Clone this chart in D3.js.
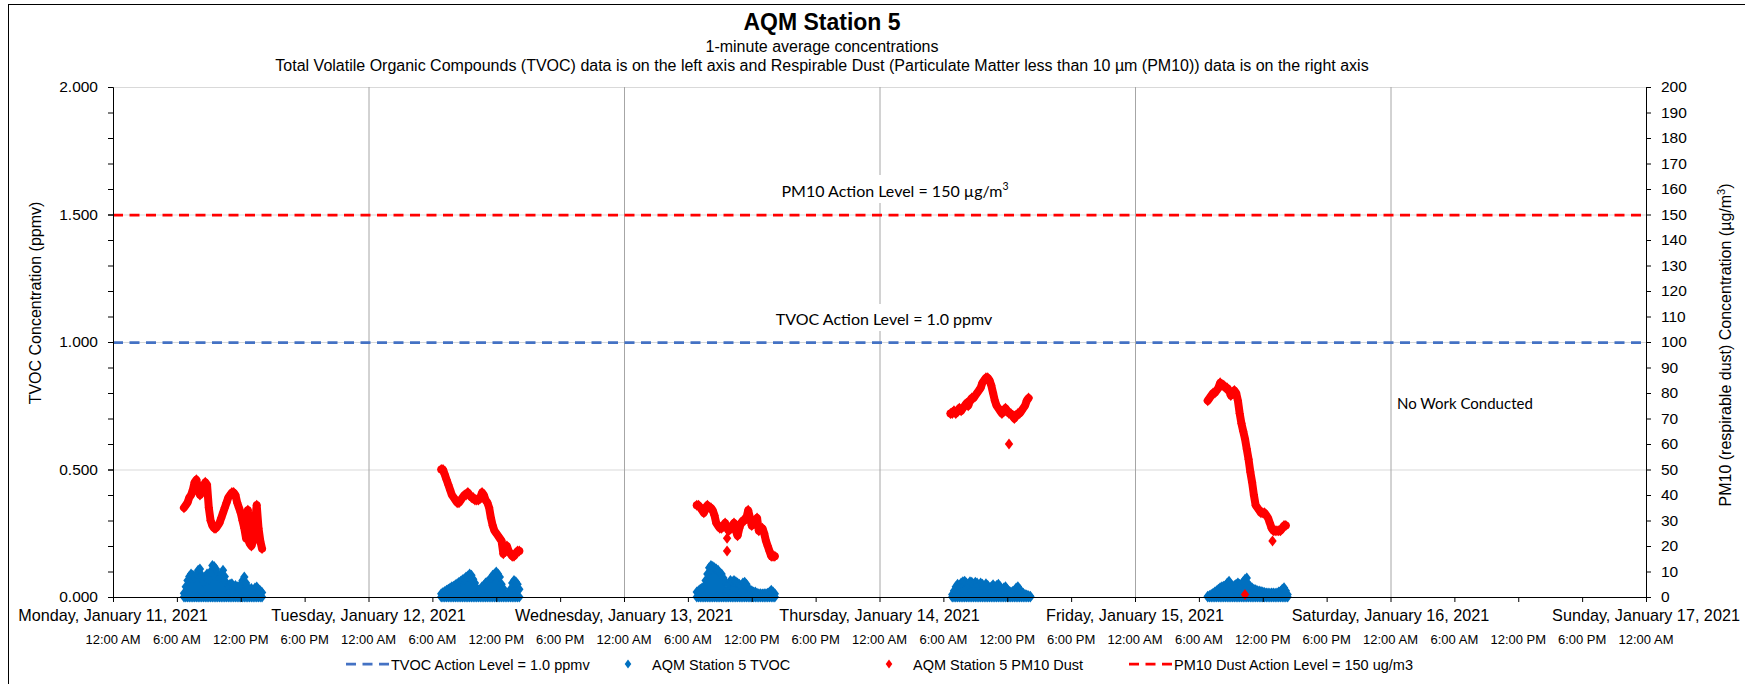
<!DOCTYPE html>
<html>
<head>
<meta charset="utf-8">
<script src="https://cdn.jsdelivr.net/npm/d3@7"></script>
<style>
  body { margin: 0; background: #fff; }
  svg { display: block; font-family: "Liberation Sans", Arial, sans-serif; }
</style>
</head>
<body>
<div id="chart"></div>
<script>

// Chart text
var titleText = "AQM Station 5";
var subtitleText = "1-minute average concentrations";
var noteText = "Total Volatile Organic Compounds (TVOC) data is on the left axis and Respirable Dust (Particulate Matter less than 10 \u00b5m (PM10)) data is on the right axis";
var leftTitle = "TVOC Concentration (ppmv)";
var rightTitle = "PM10 (respirable dust) Concentration (\u00b5g/m";

// Axis ticks and labels
var dayLabels = ["Monday, January 11, 2021", "Tuesday, January 12, 2021", "Wednesday, January 13, 2021",
  "Thursday, January 14, 2021", "Friday, January 15, 2021", "Saturday, January 16, 2021", "Sunday, January 17, 2021"];
var timeLabels = ["12:00 AM", "6:00 AM", "12:00 PM", "6:00 PM"];
var leftTicks = [0, 0.5, 1.0, 1.5, 2.0];
var rightTicks = [0, 10, 20, 30, 40, 50, 60, 70, 80, 90, 100, 110, 120, 130, 140, 150, 160, 170, 180, 190, 200];

// Action levels
var tvocAction = 1.0;
var pm10Action = 150;

// 10-minute readings (PM10 in ug/m3, TVOC in ppmv)
var pm10Jan11 = [35,36,37,39,40,42,45,46,42,40, 41,43,45,44,35,30,28,27,27,28, 29,31,33,35,37,39,40,41,41,40,
  37,35,33,30,27,23,34,21,20,22, 29,36,27,22,19];
var tvocJan11 = [0.015,0.04,0.065,0.08,0.09,0.085,0.075,0.09,0.105,0.11, 0.085,0.06,0.08,0.09,0.07,0.10,0.124,0.12,0.11,0.09,
  0.075,0.09,0.105,0.08,0.055,0.045,0.05,0.052,0.04,0.045, 0.04,0.035,0.05,0.065,0.078,0.055,0.035,0.03,0.033,0.025,
  0.035,0.039,0.03,0.025,0.018];

var pm10Jan12 = [50,50,48,46,44,42,40,39,38,37, 37,38,39,40,40,41,40,39,39,38, 38,38,39,41,40,38,37,35,31,28,
  26,25,24,23,22,17,19,20,18,17, 16,16,17,18,18];
var tvocJan12 = [0.013,0.018,0.022,0.026,0.03,0.035,0.04,0.042,0.048,0.052, 0.058,0.062,0.068,0.072,0.078,0.082,0.09,0.085,0.07,0.055,
  0.035,0.026,0.03,0.04,0.045,0.055,0.06,0.065,0.075,0.085, 0.09,0.098,0.09,0.078,0.05,0.033,0.015,0.005,0.015,0.03,
  0.055,0.065,0.06,0.05,0.03];

var pm10Jan13 = [36,36,35,34,33,35,36,35,35,34, 32,29,28,27,27,28,29,27,26,27, 28,29,26,24,27,29,30,30,31,34,
  31,28,29,30,31,26,27,27,25,22, 20,18,16,16,16];
var tvocJan13 = [0.02,0.025,0.03,0.035,0.04,0.065,0.09,0.115,0.124,0.12, 0.115,0.11,0.105,0.095,0.09,0.075,0.06,0.025,0.05,0.065,
  0.06,0.065,0.06,0.055,0.05,0.045,0.055,0.058,0.05,0.035, 0.026,0.025,0.02,0.02,0.015,0.013,0.013,0.012,0.013,0.013,
  0.015,0.02,0.026,0.02,0.013];

var pm10Jan14 = [72,72,73,72,73,74,73,74,75,76, 75,77,78,78,79,80,81,82,84,85, 86,86,85,83,80,77,75,74,73,72,
  73,74,73,72,72,71,70,71,72,72, 73,74,75,77,78];
var tvocJan14 = [0.01,0.025,0.04,0.05,0.045,0.055,0.06,0.062,0.055,0.05, 0.06,0.058,0.05,0.058,0.055,0.045,0.055,0.05,0.04,0.052,
  0.045,0.035,0.04,0.048,0.04,0.045,0.05,0.04,0.025,0.035, 0.04,0.03,0.022,0.02,0.022,0.025,0.035,0.04,0.03,0.02,
  0.015,0.01,0.008,0.005,0.003];

var pm10Jan15 = [77,78,79,80,80,81,82,84,83,83, 82,82,81,79,80,81,80,77,72,68, 65,62,58,54,49,45,40,36,35,34,
  33,33,33,32,31,29,27,26,26,26, 26,26,27,28,28];
var tvocJan15 = [0.003,0.006,0.01,0.015,0.02,0.025,0.03,0.036,0.04,0.042, 0.045,0.055,0.062,0.05,0.042,0.045,0.05,0.055,0.05,0.05,
  0.06,0.07,0.075,0.05,0.04,0.035,0.03,0.028,0.025,0.024, 0.022,0.02,0.018,0.016,0.016,0.015,0.016,0.016,0.015,0.016,
  0.02,0.023,0.03,0.036,0.025,0.01];

// Start time of each day's readings
var pm10Starts = ["2021-01-11T06:40", "2021-01-12T06:50", "2021-01-13T06:50", "2021-01-14T06:40", "2021-01-15T06:50"];
var tvocStarts = ["2021-01-11T06:40", "2021-01-12T06:50", "2021-01-13T06:50", "2021-01-14T06:50", "2021-01-15T06:50"];

// Stray PM10 readings away from the main trace
var pm10Spikes = [["2021-01-11T12:36", 30], ["2021-01-11T13:27", 32], ["2021-01-11T13:27", 28],
  ["2021-01-13T09:41", 23], ["2021-01-13T09:41", 18], ["2021-01-14T12:10", 60],
  ["2021-01-15T12:55", 22], ["2021-01-15T10:20", 1]];

var legendItems = ["TVOC Action Level = 1.0 ppmv", "AQM Station 5 TVOC", "AQM Station 5 PM10 Dust", "PM10 Dust Action Level = 150 ug/m3"];

// ------------------------------------------------------------------

var width = 1745, height = 684;
var plotLeft = 113, plotRight = 1646, plotTop = 87, plotBottom = 597;
var tvocBlue = "#0070C0", dustRed = "#FF0000", actionBlue = "#4472C4";

var parse = d3.timeParse("%Y-%m-%dT%H:%M");

var x = d3.scaleTime()
  .domain([parse("2021-01-11T00:00"), parse("2021-01-17T00:00")])
  .range([plotLeft, plotRight]);

var yL = d3.scaleLinear().domain([0, 2]).range([plotBottom, plotTop]);
var yR = d3.scaleLinear().domain([0, 200]).range([plotBottom, plotTop]);

// Expand a day's readings into timed points
function readings(start, vals) {
  var t0 = parse(start);
  return vals.map(function(v, i) { return { t: d3.timeMinute.offset(t0, i * 10), v: v }; });
}

var pm10Days = [pm10Jan11, pm10Jan12, pm10Jan13, pm10Jan14, pm10Jan15].map(function(d, i) { return readings(pm10Starts[i], d); });
var tvocDays = [tvocJan11, tvocJan12, tvocJan13, tvocJan14, tvocJan15].map(function(d, i) { return readings(tvocStarts[i], d); });
var spikes = pm10Spikes.map(function(d) { return { t: parse(d[0]), v: d[1] }; });

var diamond = "M0,-5.5L4.2,0L0,5.5L-4.2,0Z";

var svg = d3.select("#chart").append("svg")
  .attr("width", width)
  .attr("height", height);

// Chart border (runs off the right and bottom edges)
svg.append("rect")
  .attr("x", 8.5).attr("y", 4.5)
  .attr("width", width).attr("height", height)
  .attr("fill", "#fff").attr("stroke", "#000");

// Titles
svg.append("text").attr("x", 822).attr("y", 30)
  .attr("text-anchor", "middle").attr("font-size", 23).attr("font-weight", "bold")
  .text(titleText);
svg.append("text").attr("x", 822).attr("y", 52)
  .attr("text-anchor", "middle").attr("font-size", 16)
  .text(subtitleText);
svg.append("text").attr("x", 822).attr("y", 71)
  .attr("text-anchor", "middle").attr("font-size", 16)
  .text(noteText);

// Gridlines
var days = x.ticks(d3.timeDay.every(1));
var grid = svg.append("g");

grid.selectAll("line.h")
  .data(leftTicks.filter(function(d) { return d > 0; }))
  .enter().append("line")
  .attr("x1", plotLeft).attr("x2", plotRight)
  .attr("y1", function(d) { return yL(d) + 0.5; })
  .attr("y2", function(d) { return yL(d) + 0.5; })
  .attr("stroke", "#d9d9d9");

grid.selectAll("line.v")
  .data(days.slice(1, -1))
  .enter().append("line")
  .attr("x1", function(d) { return x(d) + 0.5; })
  .attr("x2", function(d) { return x(d) + 0.5; })
  .attr("y1", plotTop).attr("y2", plotBottom)
  .attr("stroke", "#a6a6a6");

// TVOC action level
svg.append("line")
  .attr("x1", plotLeft).attr("x2", plotRight)
  .attr("y1", yL(tvocAction) + 0.5).attr("y2", yL(tvocAction) + 0.5)
  .attr("stroke", actionBlue).attr("stroke-width", 2.75)
  .attr("stroke-dasharray", "10,6.5");

// TVOC readings: filled down to zero, diamond markers on top
var tvocG = svg.append("g");
var area = d3.area()
  .x(function(d) { return x(d.t); })
  .y0(yL(0))
  .y1(function(d) { return yL(d.v); })
  .curve(d3.curveMonotoneX);

tvocDays.forEach(function(day) {
  tvocG.append("path")
    .datum(day)
    .attr("d", area)
    .attr("fill", tvocBlue);

  tvocG.selectAll(null)
    .data(day)
    .enter().append("path")
    .attr("d", diamond)
    .attr("fill", tvocBlue)
    .attr("transform", function(d) { return "translate(" + x(d.t) + "," + yL(d.v) + ")"; });

  tvocG.selectAll(null)
    .data(day)
    .enter().append("path")
    .attr("d", diamond)
    .attr("fill", tvocBlue)
    .attr("transform", function(d) { return "translate(" + x(d.t) + "," + yL(0) + ")"; });
});

// PM10 readings (right axis)
var pmG = svg.append("g");
var line = d3.line()
  .x(function(d) { return x(d.t); })
  .y(function(d) { return yR(d.v); });

pm10Days.forEach(function(day) {
  pmG.append("path")
    .datum(day)
    .attr("d", line)
    .attr("fill", "none")
    .attr("stroke", dustRed)
    .attr("stroke-width", 8)
    .attr("stroke-linejoin", "round")
    .attr("stroke-linecap", "round");

  pmG.selectAll(null)
    .data(day)
    .enter().append("path")
    .attr("d", diamond)
    .attr("fill", dustRed)
    .attr("transform", function(d) { return "translate(" + x(d.t) + "," + yR(d.v) + ")"; });
});

pmG.selectAll(null)
  .data(spikes)
  .enter().append("path")
  .attr("d", diamond)
  .attr("fill", dustRed)
  .attr("transform", function(d) { return "translate(" + x(d.t) + "," + yR(d.v) + ")"; });

// PM10 action level
svg.append("line")
  .attr("x1", plotLeft).attr("x2", plotRight)
  .attr("y1", yR(pm10Action) + 0.5).attr("y2", yR(pm10Action) + 0.5)
  .attr("stroke", dustRed).attr("stroke-width", 2.75)
  .attr("stroke-dasharray", "10,6.5");

// X axis, ticks every 6 hours
var sixHours = x.ticks(d3.timeHour.every(6));

svg.append("g")
  .attr("transform", "translate(0," + plotBottom + ")")
  .call(d3.axisBottom(x).tickValues(sixHours).tickSize(5).tickSizeOuter(0).tickFormat(""))
  .call(function(g) { g.selectAll("line, path").attr("stroke", "#000"); });

svg.append("g").selectAll("text")
  .data(sixHours)
  .enter().append("text")
  .attr("x", function(d) { return x(d); })
  .attr("y", 644)
  .attr("text-anchor", "middle")
  .attr("font-size", 13)
  .text(function(d) { return timeLabels[d.getHours() / 6]; });

svg.append("g").selectAll("text")
  .data(days)
  .enter().append("text")
  .attr("x", function(d) { return x(d); })
  .attr("y", 621)
  .attr("text-anchor", "middle")
  .attr("font-size", 16.2)
  .text(function(d, i) { return dayLabels[i]; });

// Left axis with minor ticks
svg.append("g")
  .attr("transform", "translate(" + plotLeft + ",0)")
  .call(d3.axisLeft(yL).tickValues(d3.range(0, 2.05, 0.1)).tickSize(5).tickSizeOuter(0).tickFormat(""))
  .call(function(g) { g.selectAll("line, path").attr("stroke", "#000"); });

svg.append("g")
  .attr("transform", "translate(" + plotLeft + ",0)")
  .call(d3.axisLeft(yL).tickValues(leftTicks).tickSize(5).tickSizeOuter(0).tickPadding(10).tickFormat(d3.format(".3f")))
  .call(function(g) {
    g.selectAll("line, path").attr("stroke", "#000");
    g.selectAll("text").attr("font-size", 15.5).attr("fill", "#000")
      .attr("font-family", "'Liberation Sans', Arial, sans-serif");
  });

// Right axis
svg.append("g")
  .attr("transform", "translate(" + plotRight + ",0)")
  .call(d3.axisRight(yR).tickValues(rightTicks).tickSize(5).tickSizeOuter(0).tickPadding(10))
  .call(function(g) {
    g.selectAll("line, path").attr("stroke", "#000");
    g.selectAll("text").attr("font-size", 15.5).attr("fill", "#000")
      .attr("font-family", "'Liberation Sans', Arial, sans-serif");
  });

// Axis titles
svg.append("text")
  .attr("transform", "translate(41,303) rotate(-90)")
  .attr("text-anchor", "middle").attr("font-size", 16)
  .text(leftTitle);

var rt = svg.append("text")
  .attr("transform", "translate(1731,345) rotate(-90)")
  .attr("text-anchor", "middle").attr("font-size", 16)
  .text(rightTitle);
rt.append("tspan").attr("font-size", 11).attr("dy", -6).text("3");
rt.append("tspan").attr("dy", 6).text(")");

// Text boxes on the plot
function note(cx, cy, str, sup) {
  var g = svg.append("g");
  var box = g.append("rect").attr("fill", "#fff");
  var t = g.append("text")
    .attr("x", cx).attr("y", cy)
    .attr("text-anchor", "middle")
    .attr("font-family", "Lato, 'Open Sans', sans-serif")
    .attr("font-size", 16)
    .text(str);
  if (sup) {
    t.append("tspan").attr("font-size", 10.5).attr("dy", -7).text(sup);
  }
  var b = t.node().getBBox();
  box.attr("x", b.x - 6).attr("y", b.y - 5).attr("width", b.width + 12).attr("height", b.height + 8);
}

note(895, 197, "PM10 Action Level = 150 \u00b5g/m", "3");
note(884, 325, "TVOC Action Level = 1.0 ppmv");

svg.append("text")
  .attr("x", 1397).attr("y", 409)
  .attr("font-family", "Lato, 'Open Sans', sans-serif")
  .attr("font-size", 15)
  .text("No Work Conducted");

// Legend
var legend = svg.append("g").attr("transform", "translate(346,664)");
var item = legend.selectAll("g")
  .data(legendItems)
  .enter().append("g")
  .attr("transform", function(d, i) { return "translate(" + (i * 261) + ",0)"; });

item.filter(function(d, i) { return i == 0 || i == 3; })
  .append("line")
  .attr("x1", 0).attr("x2", 43)
  .attr("stroke", function(d, i) { return i == 0 ? actionBlue : dustRed; })
  .attr("stroke-width", 2.75)
  .attr("stroke-dasharray", "10,6.5");

item.filter(function(d, i) { return i == 1 || i == 2; })
  .append("path")
  .attr("d", "M0,-4.5L3.3,0L0,4.5L-3.3,0Z")
  .attr("transform", "translate(21,0)")
  .attr("fill", function(d, i) { return i == 0 ? tvocBlue : dustRed; });

item.append("text")
  .attr("x", 45)
  .attr("y", 5.5)
  .attr("font-size", 14.5)
  .text(function(d) { return d; });

</script>
</body>
</html>
